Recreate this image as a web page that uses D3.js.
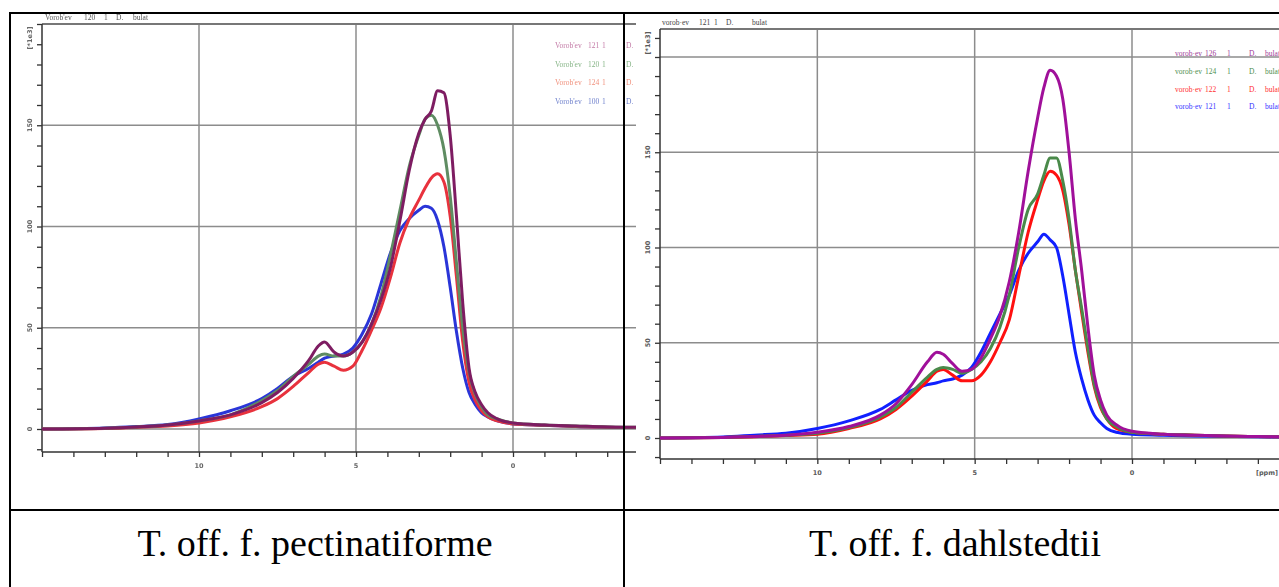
<!DOCTYPE html>
<html>
<head>
<meta charset="utf-8">
<script src="https://cdn.jsdelivr.net/npm/d3@7"></script>
<style>
  body { margin: 0; background: #fff; }
  svg { display: block; }
</style>
</head>
<body>
<svg id="fig" width="1279" height="587"></svg>
<script>
// Chemical shift grid (ppm) shared by all spectra
const ppm = [15,13,12,11,10,9,8,7.5,7,6.5,6.2,6.0,5.7,5.4,5.1,4.8,4.5,4.2,3.9,3.6,3.3,3.0,2.8,2.6,2.4,2.2,2.0,1.8,1.6,1.4,1.2,1.0,0.8,0.5,0,-1,-2,-3,-4,-5];

// T. off. f. pectinatiforme spectra (intensity, *1e3)
const pectPurple = [0,0.4,1,2,4,7,13,18,25,34,41,43,38,36,38,43,52,64,80,103,128,146,153,157,167,166,145,105,62,30,18,12,8,5,3,2,1.5,1,0.8,0.6];
const pectGreen  = [0,0.4,1,2,4,7,14,19,26,32,36,37,36,36,38,43,52,66,86,108,130,145,153,155,150,138,115,82,50,28,17,11,7,5,3,2,1.5,1,0.8,0.6];
const pectRed    = [0,0.3,0.8,1.5,3,6,11,15,21,28,32,33,31,29,31,39,49,60,75,92,104,113,119,124,126,122,105,75,43,23,14,9,6,4,2.5,1.8,1.2,0.9,0.7,0.5];
const pectBlue   = [0,0.5,1.2,2.2,5,9,15,20,26,30,33,35,36,37,40,47,57,72,87,98,104,108,110,109,103,90,70,48,30,18,12,8,6,4,2.5,1.8,1.2,0.9,0.7,0.5];

// T. off. f. dahlstedtii spectra (intensity, *1e3)
const dahlPurple = [0,0.3,0.8,1.5,3,6,12,18,28,40,45,44,39,35,36,42,52,64,82,108,140,168,184,193,190,178,150,115,88,58,33,20,12,7,3.5,2,1.5,1,0.8,0.6];
const dahlGreen  = [0,0.3,0.8,1.5,2.5,5.5,11,16,24,32,36,37,36,34,36,40,47,58,75,100,120,128,138,147,147,135,115,88,68,47,28,17,10,6,3,2,1.5,1,0.8,0.6];
const dahlRed    = [0,0.3,0.7,1.3,2,5,10,15,22,30,35,36,33,30,30,33,40,50,62,85,108,125,135,140,138,130,112,88,66,45,27,16,10,5,3,2,1.5,1,0.8,0.6];
const dahlBlue   = [0,0.5,1.5,2.5,5,9,15,20,25,28,29,30,31,33,37,45,55,65,75,88,97,103,107,104,100,85,65,45,31,20,12,8,5,3,2,1.5,1,0.8,0.6,0.5];

// Labels
const pectTitle = ["Vorob'ev", "120", "1", "D.", "bulat"];
const dahlTitle = ["vorob·ev", "121", "1", "D.", "bulat"];
const pectLegend = [["Vorob'ev","121","1","D."],["Vorob'ev","120","1","D."],["Vorob'ev","124","1","D."],["Vorob'ev","100","1","D."]];
const dahlLegend = [["vorob·ev","126","1","D.","bulat"],["vorob·ev","124","1","D.","bulat"],["vorob·ev","122","1","D.","bulat"],["vorob·ev","121","1","D.","bulat"]];
const yTickLabels = [0, 50, 100, 150];
const xTickLabels = [10, 5, 0];
const captions = ["T. off. f. pectinatiforme", "T. off. f. dahlstedtii"];

const svg = d3.select("#fig");
const defs = svg.append("defs");
defs.append("filter").attr("id", "soft")
  .append("feGaussianBlur").attr("stdDeviation", 0.6);

function drawSpectrum(cfg) {
  const root = svg.append("g");
  defs.append("clipPath").attr("id", cfg.id + "-clip")
    .append("rect").attr("x", cfg.clip[0]).attr("y", cfg.clip[1])
    .attr("width", cfg.clip[2]).attr("height", cfg.clip[3]);
  const g = root.append("g").attr("clip-path", `url(#${cfg.id}-clip)`);
  if (cfg.soft) g.attr("filter", "url(#soft)");

  const x = d3.scaleLinear().domain([15, 0]).range([cfg.left, cfg.zeroX]);
  const y = d3.scaleLinear().domain([0, 200]).range([cfg.zeroY, cfg.y200]);
  const right = 1300;
  const top = cfg.top, bottom = cfg.bottom;

  // grid
  const gridStroke = "#8c8c8c";
  g.selectAll(".vg").data(xTickLabels).join("line")
    .attr("x1", d => x(d)).attr("x2", d => x(d))
    .attr("y1", top).attr("y2", bottom)
    .attr("stroke", gridStroke).attr("stroke-width", 1.5);
  g.selectAll(".hg").data([0, 50, 100, 150, 200]).join("line")
    .attr("x1", cfg.left).attr("x2", right)
    .attr("y1", d => y(d)).attr("y2", d => y(d))
    .attr("stroke", gridStroke).attr("stroke-width", 1.3);
  // top frame
  g.append("line").attr("x1", cfg.left).attr("x2", right)
    .attr("y1", top).attr("y2", top)
    .attr("stroke", "#777").attr("stroke-width", 2);

  // axes
  const yAxis = d3.axisLeft(y).tickValues(d3.range(-10, y.invert(top) + 0.1, 10))
    .tickSize(5).tickFormat("");
  g.append("g").attr("transform", `translate(${cfg.left},0)`).call(yAxis)
    .call(a => a.select(".domain").attr("d", `M0,${top}V${bottom}`).attr("stroke", "#333").attr("stroke-width", 1.5))
    .call(a => a.selectAll(".tick line").attr("stroke", "#333").attr("stroke-width", 1.3));
  const xAxis = d3.axisBottom(x).tickValues(d3.range(15, -6, -1)).tickSize(5).tickFormat("");
  g.append("g").attr("transform", `translate(0,${bottom})`).call(xAxis)
    .call(a => a.select(".domain").attr("d", `M${cfg.left},0H${right}`).attr("stroke", "#333").attr("stroke-width", 1.5))
    .call(a => a.selectAll(".tick line").attr("stroke", "#333").attr("stroke-width", 1.3));

  // tick labels
  g.selectAll(".yl").data(yTickLabels).join("text")
    .attr("transform", d => `translate(${cfg.left - 10},${y(d)}) rotate(-90)`)
    .attr("text-anchor", "middle")
    .attr("font-family", "DejaVu Sans").attr("font-size", 6.5).attr("font-weight", "bold")
    .attr("fill", cfg.labelColor).text(d => d);
  g.append("text")
    .attr("transform", `translate(${cfg.left - 10},${top + 14}) rotate(-90)`)
    .attr("text-anchor", "middle")
    .attr("font-family", "DejaVu Sans").attr("font-size", 6.5).attr("font-weight", "bold")
    .attr("fill", cfg.labelColor).text("[*1e3]");
  g.selectAll(".xl").data(xTickLabels).join("text")
    .attr("x", d => x(d)).attr("y", bottom + 16)
    .attr("text-anchor", "middle")
    .attr("font-family", "DejaVu Sans").attr("font-size", 6.5).attr("font-weight", "bold")
    .attr("fill", cfg.labelColor).text(d => d);
  if (cfg.unit) {
    g.append("text").attr("x", 1256).attr("y", bottom + 16)
      .attr("font-family", "DejaVu Sans").attr("font-size", 6.5).attr("font-weight", "bold")
      .attr("fill", cfg.labelColor).text("[ppm]");
  }

  // title
  g.selectAll(".tt").data(cfg.title).join("text")
    .attr("x", (d, i) => cfg.titleX + cfg.titleOffsets[i]).attr("y", top - 4)
    .attr("font-family", "Liberation Serif").attr("font-size", 7.5)
    .attr("fill", cfg.titleColor).text(d => d);

  // legend
  cfg.legend.forEach((words, k) => {
    g.selectAll(".lg" + k).data(words).join("text")
      .attr("x", (d, i) => cfg.legendX + cfg.legendOffsets[i])
      .attr("y", cfg.legendY[k] + 3)
      .attr("font-family", "Liberation Serif").attr("font-size", 7.5)
      .attr("fill", cfg.legendColors[k]).text(d => d);
  });

  // spectra
  const line = d3.line().x(d => x(d[0])).y(d => y(d[1])).curve(d3.curveMonotoneX);
  cfg.series.forEach(s => {
    g.append("path").datum(ppm.map((p, i) => [p, s.values[i]]))
      .attr("d", line).attr("fill", "none")
      .attr("stroke", s.color).attr("stroke-width", s.width || 3)
      .attr("stroke-linejoin", "round");
  });
}

drawSpectrum({
  id: "pect", soft: true,
  clip: [11, 14, 625, 495],
  left: 42, zeroX: 513, zeroY: 429, y200: 24, top: 24, bottom: 452,
  labelColor: "#666", titleColor: "#555",
  title: pectTitle, titleX: 45, titleOffsets: [0, 39, 59, 71, 88],
  legend: pectLegend, legendX: 555, legendOffsets: [0, 33, 47, 71],
  legendY: [45, 64, 82, 101],
  legendColors: ["#c37aa6", "#86b486", "#f0907c", "#6f80cc"],
  series: [
    { values: pectBlue, color: "#2a35d8" },
    { values: pectRed, color: "#e8303c" },
    { values: pectGreen, color: "#5e8c62" },
    { values: pectPurple, color: "#7e1f62" }
  ]
});

drawSpectrum({
  id: "dahl", soft: false,
  clip: [636, 14, 650, 495],
  left: 660, zeroX: 1132, zeroY: 438, y200: 57, top: 29, bottom: 459,
  unit: true,
  labelColor: "#5a5a5a", titleColor: "#444",
  title: dahlTitle, titleX: 662, titleOffsets: [0, 37, 52, 64, 90],
  legend: dahlLegend, legendX: 1175, legendOffsets: [0, 30, 52, 74, 90],
  legendY: [53, 71, 89, 106],
  legendColors: ["#a03c98", "#4f8f4f", "#ff3030", "#3434ff"],
  series: [
    { values: dahlBlue, color: "#1020ff" },
    { values: dahlRed, color: "#ff1010" },
    { values: dahlGreen, color: "#4a8a4a" },
    { values: dahlPurple, color: "#a0109a" }
  ]
});

// table borders
const border = svg.append("g").attr("stroke", "#000").attr("stroke-width", 2);
border.append("line").attr("x1", 9).attr("x2", 1279).attr("y1", 13).attr("y2", 13);
border.append("line").attr("x1", 10).attr("x2", 10).attr("y1", 12).attr("y2", 587);
border.append("line").attr("x1", 624).attr("x2", 624).attr("y1", 12).attr("y2", 587);
border.append("line").attr("x1", 9).attr("x2", 1279).attr("y1", 510).attr("y2", 510);

// captions
svg.selectAll(".cap").data(captions).join("text")
  .attr("x", (d, i) => [315, 955][i]).attr("y", 556)
  .attr("text-anchor", "middle")
  .attr("font-family", "Liberation Serif").attr("font-size", 38)
  .attr("fill", "#000").text(d => d);
</script>
</body>
</html>
